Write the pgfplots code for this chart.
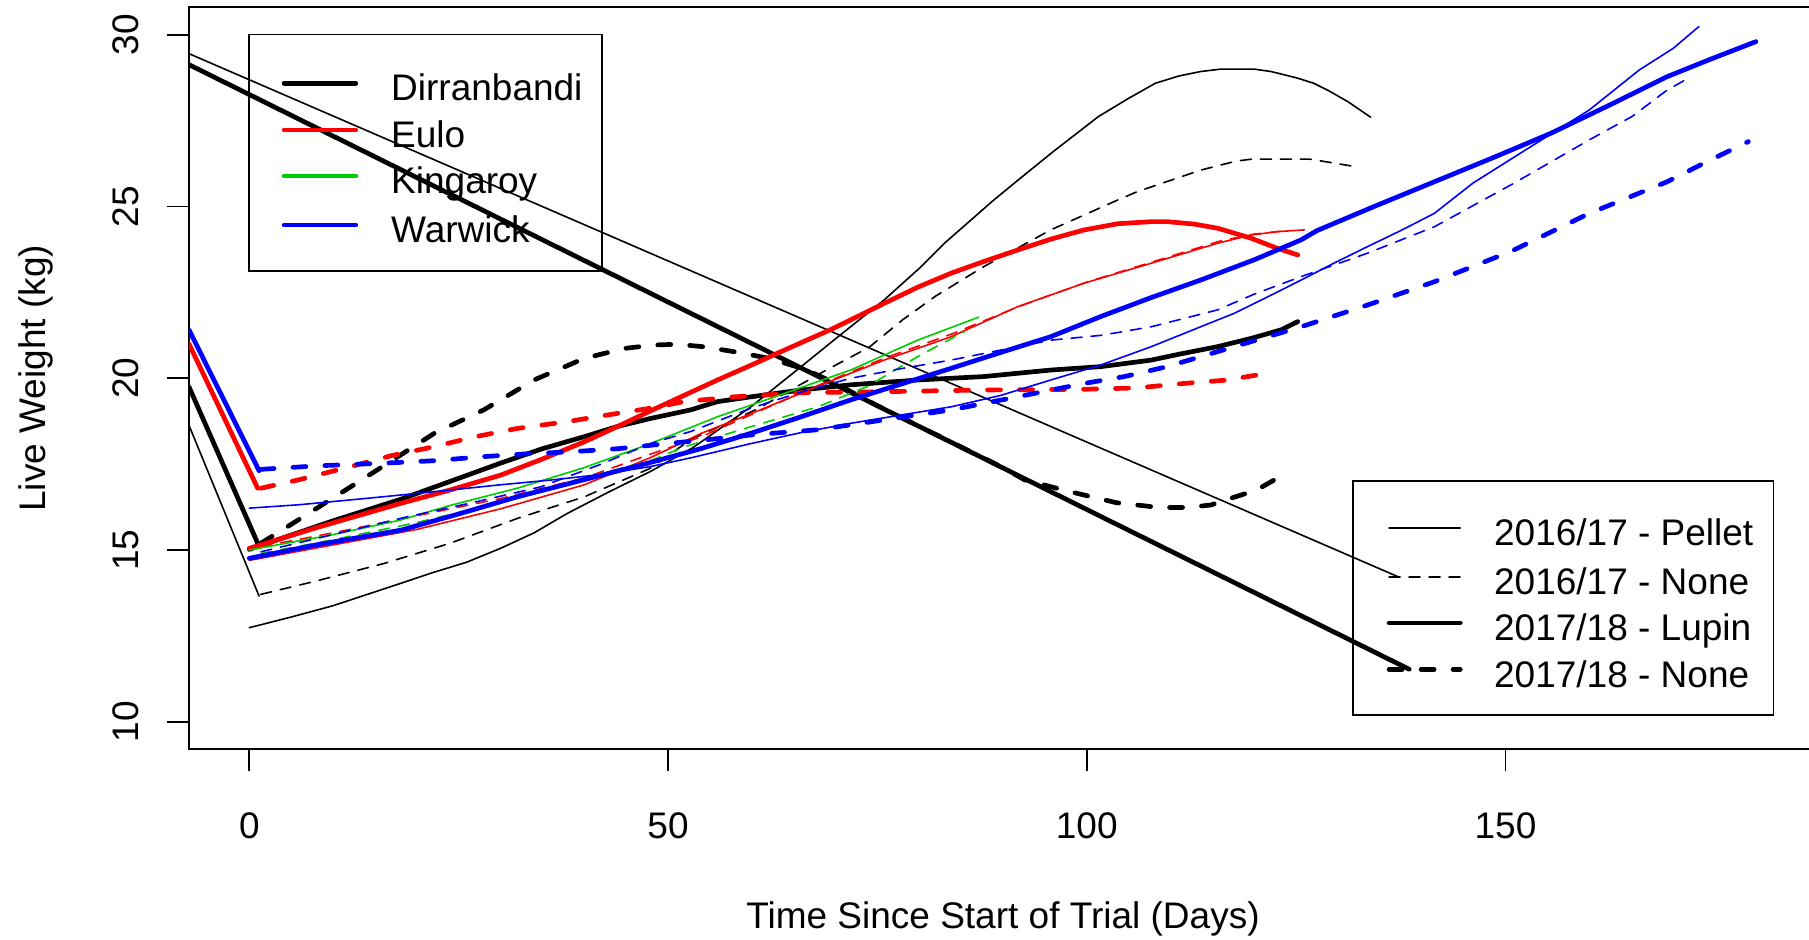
\documentclass[border=0pt]{standalone}
\usepackage{fontspec}
\setmainfont{Liberation Sans}
\usepackage{pgfplots}
\pgfplotsset{compat=1.18}
\definecolor{rred}{RGB}{255,0,0}
\definecolor{rgreen}{RGB}{0,205,0}
\definecolor{rblue}{RGB}{0,0,255}
\tikzset{
 thinsolid/.style={line width=0.8pt, line cap=round, line join=round},
 thindash/.style={line width=0.8pt, line cap=round, line join=round, dash pattern=on 5.5pt off 4.5pt},
 thicksolid/.style={line width=2.35pt, line cap=round, line join=round},
 thickdash/.style={line width=2.35pt, line cap=round, line join=round, dash pattern=on 6.5pt off 9.5pt},
}
\begin{document}
\fontsize{18.5}{22}\selectfont
\begin{tikzpicture}
\begin{axis}[
 width=814pt, height=371pt, scale only axis,
 xmin=-7.2, xmax=187.2, ymin=9.2, ymax=30.8,
 xtick={0,50,100,150}, ytick={10,15,20,25,30},
 xtick pos=bottom, ytick pos=left,
 tick align=outside, major tick length=11pt,
 tick style={line width=0.8pt, black},
 axis line style={line width=0.9pt},
 /pgf/number format/assume math mode=true,
 tick label style={font=\fontsize{18.5}{22}\selectfont, inner sep=0pt},
 xticklabel style={anchor=base, yshift=-33.45pt},
 yticklabel style={xshift=-14.4pt, rotate=90, anchor=base},
 label style={font=\fontsize{18.5}{22}\selectfont, inner sep=0pt},
 xlabel={Time Since Start of Trial (Days)},
 ylabel={Live Weight (kg)},
 every axis x label/.style={at={(axis description cs:0.5,0)}, yshift=-89.5pt, anchor=base},
 every axis y label/.style={at={(axis description cs:0,0.5)}, xshift=-71.5pt, rotate=90, anchor=base},
 no markers,
]
% ---- diagonals / connectors ----
\addplot[thinsolid, black] coordinates {(-7.2,29.45) (137.3,14.21)};
\addplot[thicksolid, black] coordinates {(-7.2,29.13) (138.5,11.53)};
\addplot[thinsolid, black] coordinates {(-7.2,18.63) (1.17,13.66)};
\addplot[thicksolid, black] coordinates {(-7.2,19.75) (1.0,15.2)};
\addplot[thicksolid, rred] coordinates {(-7.2,21.0) (1.0,16.8)};
\addplot[thicksolid, rblue] coordinates {(-7.2,21.41) (1.17,17.31)};
% ---- Dirranbandi ----
\addplot[thinsolid, black] coordinates {(0,12.74) (5,13.05) (10,13.38) (17.7,14.0) (22,14.35) (26,14.65) (30,15.05) (34,15.5) (38,16.07) (43,16.7) (48,17.3) (53.1,18.0) (59.9,19.17) (65.9,20.34) (69.8,21.11) (75.8,22.28) (80,23.2) (83,23.93) (88.9,25.19) (91.8,25.77) (96,26.6) (101.4,27.62) (105,28.15) (108.2,28.59) (111,28.8) (113.6,28.93) (116,29.0) (120,29.0) (122,28.93) (125,28.75) (127.1,28.59) (128.9,28.37) (131.2,28.05) (133.9,27.6)};
\addplot[thindash, black] coordinates {(1.37,13.71) (8,14.1) (16.1,14.61) (24,15.2) (32,15.92) (40,16.55) (47.9,17.38) (52.6,18.2) (60.6,19.1) (68.6,20.2) (74,20.9) (78,21.7) (82,22.4) (87.7,23.25) (95.7,24.32) (103.7,25.19) (106,25.43) (113.6,26.06) (117.8,26.32) (119.7,26.38) (126.6,26.38) (128.9,26.29) (132.1,26.16)};
\addplot[thicksolid, black] coordinates {(0,15.02) (10,15.85) (18.1,16.48) (24,17.0) (30,17.53) (35,17.95) (40,18.3) (44,18.6) (47.9,18.83) (52.7,19.08) (55.9,19.32) (59.9,19.46) (65.9,19.66) (71.8,19.81) (79.8,19.95) (87.7,20.05) (95.7,20.24) (101.7,20.34) (107.7,20.53) (111,20.7) (115.6,20.92) (119.6,21.16) (123.2,21.41) (125.2,21.65)};
\addplot[thickdash, black] coordinates {(1.4,15.2) (6,15.9) (12.1,16.84) (17,17.6) (22.1,18.4) (28,19.08) (34,19.95) (40,20.58) (44.8,20.87) (48.4,20.97) (51.1,20.99) (54.2,20.92) (58,20.77) (62.1,20.58) (66.5,20.25) (70,19.85) (75,19.2) (80,18.6) (85,18.0) (90,17.4) (92.6,17.04) (98,16.7) (103.5,16.38) (108.6,16.24) (112,16.24) (114.8,16.31) (116.6,16.46) (118.4,16.6) (120.3,16.75) (123.6,17.21)};
% ---- Eulo ----
\addplot[thinsolid, rred] coordinates {(0,14.7) (10,15.15) (20,15.6) (30,16.2) (40,16.9) (48,17.7) (54,18.4) (60,18.98) (67.8,19.76) (75.8,20.53) (83.8,21.21) (91.7,22.08) (99.7,22.77) (107.7,23.35) (115.6,23.93) (119.6,24.17) (122.8,24.27) (126,24.32)};
\addplot[thindash, rred] coordinates {(1.4,15.1) (10,15.5) (20,16.0) (30,16.5) (40,17.1) (48,17.8) (54,18.3) (60,18.95) (68,19.8) (76,20.6) (84,21.3) (92,22.1) (100,22.8) (108,23.4) (116,24.0) (120,24.2) (124,24.3)};
\addplot[thicksolid, rred] coordinates {(0,15.05) (8,15.65) (18.1,16.36) (24,16.75) (30,17.18) (35,17.65) (40,18.15) (44,18.6) (47.9,19.05) (51.9,19.5) (55.9,19.95) (59.9,20.38) (63.9,20.82) (69.8,21.46) (75.8,22.18) (79.8,22.65) (83.8,23.06) (87.7,23.4) (91.7,23.73) (95.7,24.05) (99.7,24.32) (103.7,24.5) (107.7,24.56) (109.6,24.56) (112.8,24.49) (115.6,24.37) (119.6,24.08) (122.8,23.78) (125.2,23.59)};
\addplot[thickdash, rred] coordinates {(1.4,16.8) (6,17.05) (12.1,17.43) (17,17.75) (22.1,18.01) (27,18.3) (32,18.54) (38,18.74) (44,18.98) (47.9,19.13) (51.9,19.32) (57.9,19.46) (65.9,19.58) (75.8,19.61) (87.7,19.66) (99.7,19.68) (106,19.72) (111.6,19.85) (116.8,19.95) (120.4,20.1) (122.0,20.19)};
% ---- Kingaroy ----
\addplot[thinsolid, rgreen] coordinates {(0,15.0) (10,15.45) (18,15.87) (24,16.3) (32,16.8) (40,17.4) (47.9,18.1) (55.9,18.88) (63.9,19.56) (71.8,20.24) (79.8,21.11) (87.1,21.78)};
\addplot[thindash, rgreen] coordinates {(1.4,14.9) (10,15.3) (20,15.8) (32,16.5) (40,17.1) (47.9,17.6) (51.9,18.0) (59.9,18.59) (67.9,19.17) (73.8,19.76) (79.8,20.63) (85.4,21.36)};
% ---- Warwick ----
\addplot[thinsolid, rblue] coordinates {(0,16.22) (6,16.32) (12.1,16.46) (18,16.6) (24.1,16.75) (30,16.9) (36.1,17.04) (42,17.2) (47.9,17.43) (53,17.7) (59.9,18.1) (65.9,18.42) (71.8,18.69) (77.8,18.93) (83.8,19.17) (89.7,19.5) (95.7,19.95) (101.7,20.39) (107.7,20.92) (113.6,21.5) (117.6,21.89) (121.6,22.37) (125.6,22.86) (129.5,23.35) (133.5,23.83) (137.5,24.3) (141.5,24.8) (146.1,25.68) (153,26.74) (160,27.81) (166,28.98) (170,29.6) (173.1,30.24)};
\addplot[thindash, rblue] coordinates {(1.4,14.95) (10,15.45) (18.9,15.97) (27,16.4) (34.8,16.84) (42,17.5) (47.9,18.1) (52.7,18.45) (59.9,19.13) (65.9,19.6) (71.8,20.0) (77.8,20.28) (83.8,20.53) (89.7,20.82) (95.7,21.11) (101.7,21.25) (107.7,21.5) (115.6,21.99) (120,22.45) (125.6,22.96) (133.5,23.64) (141.5,24.41) (150.8,25.65) (160,26.94) (165.1,27.62) (169.3,28.39) (171.8,28.73)};
\addplot[thicksolid, rblue] coordinates {(0,14.76) (8,15.15) (18.1,15.58) (25,16.05) (32,16.55) (40,17.05) (47.9,17.55) (53.9,17.95) (59.9,18.4) (65.9,18.88) (71.8,19.37) (77.8,19.83) (83.8,20.29) (89.7,20.75) (95.7,21.21) (101.7,21.8) (107.7,22.35) (113.6,22.86) (120,23.45) (125.6,24.03) (127.5,24.3) (134.5,25.02) (141.5,25.72) (148.5,26.42) (155.4,27.13) (162.4,27.95) (169.3,28.78) (174.6,29.3) (179.9,29.8)};
\addplot[thickdash, rblue] coordinates {(1.4,17.35) (8,17.45) (16.1,17.53) (22,17.6) (28,17.72) (33,17.8) (38.4,17.86) (44,17.95) (49.9,18.1) (55,18.22) (59.9,18.35) (67.8,18.5) (75.8,18.79) (83.8,19.08) (91.7,19.46) (99.7,19.85) (104.5,20.05) (109.6,20.34) (117.6,20.92) (125.6,21.5) (133.5,22.13) (141.5,22.81) (150.8,23.71) (160,24.8) (169.3,25.72) (174,26.3) (179,26.89)};
% ---- legend 1 ----
\draw[line width=0.9pt] (axis cs:0,23.12) rectangle (axis cs:42.1,30.01);
\draw[thicksolid, black] (axis cs:4.16,28.59) -- (axis cs:12.72,28.59);
\draw[thicksolid, rred] (axis cs:4.16,27.23) -- (axis cs:12.72,27.23);
\draw[thicksolid, rgreen] (axis cs:4.16,25.89) -- (axis cs:12.72,25.89);
\draw[thicksolid, rblue] (axis cs:4.16,24.46) -- (axis cs:12.72,24.46);
\node[anchor=base west, inner sep=0pt, yshift=-8.7pt] at (axis cs:16.9,28.59) {Dirranbandi};
\node[anchor=base west, inner sep=0pt, yshift=-8.7pt] at (axis cs:16.9,27.23) {Eulo};
\node[anchor=base west, inner sep=0pt, yshift=-8.7pt] at (axis cs:16.9,25.89) {Kingaroy};
\node[anchor=base west, inner sep=0pt, yshift=-8.7pt] at (axis cs:16.9,24.46) {Warwick};
% ---- legend 2 ----
\draw[line width=0.9pt] (axis cs:131.8,10.2) rectangle (axis cs:182.0,17.01);
\draw[thinsolid, black] (axis cs:136.1,15.65) -- (axis cs:144.6,15.65);
\draw[thindash, black] (axis cs:136.1,14.22) -- (axis cs:144.6,14.22);
\draw[thicksolid, black] (axis cs:136.1,12.88) -- (axis cs:144.6,12.88);
\draw[thickdash, black] (axis cs:136.1,11.53) -- (axis cs:144.6,11.53);
\node[anchor=base west, inner sep=0pt, yshift=-8.9pt] at (axis cs:148.6,15.65) {2016/17 - Pellet};
\node[anchor=base west, inner sep=0pt, yshift=-8.9pt] at (axis cs:148.6,14.22) {2016/17 - None};
\node[anchor=base west, inner sep=0pt, yshift=-8.9pt] at (axis cs:148.6,12.88) {2017/18 - Lupin};
\node[anchor=base west, inner sep=0pt, yshift=-8.9pt] at (axis cs:148.6,11.53) {2017/18 - None};
\end{axis}
\pgfresetboundingbox
\path[use as bounding box] ([shift={(-94.5pt,-95.35pt)}]current axis.south west) rectangle ++(904.5pt,470pt);
\end{tikzpicture}
\end{document}
